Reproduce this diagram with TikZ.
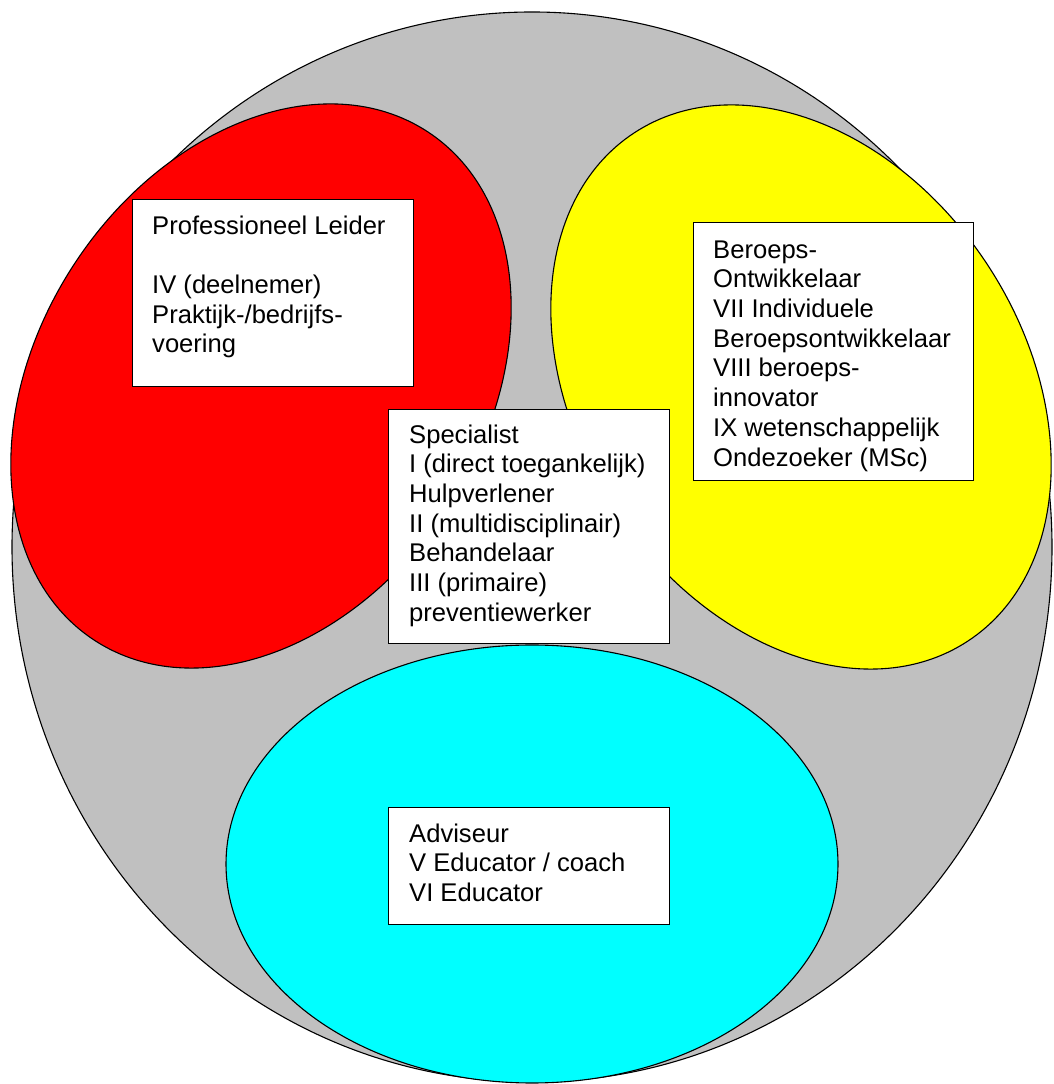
\documentclass[tikz,border=0pt]{standalone}
\usepackage{fontspec}
\setmainfont{Liberation Sans}
\definecolor{grayfill}{RGB}{192,192,192}
\definecolor{redfill}{RGB}{255,0,0}
\definecolor{yellowfill}{RGB}{255,255,0}
\definecolor{cyanfill}{RGB}{0,255,255}
\begin{document}
\begin{tikzpicture}[x=1pt,y=1pt,
  blob/.style={draw=black, line width=1.1pt},
  card/.style={draw=black, fill=white, line width=1.4pt, inner sep=0pt, anchor=north west},
  txt/.style={anchor=north west, inner sep=0pt, align=left, font=\fontsize{25.6}{29.7}\selectfont}]
\useasboundingbox (0,0) rectangle (1053,1084);
% outer circle
\draw[blob, fill=grayfill] (532,537) ellipse (520 and 535);
% red
\draw[blob, fill=redfill, rotate around={56.7:(261,698)}] (261,698) ellipse (304 and 223);
% yellow
\draw[blob, fill=yellowfill, rotate around={-56.7:(801,697)}] (801,697) ellipse (304 and 223);
% cyan
\draw[blob, fill=cyanfill] (532,220) ellipse (306 and 219);
% boxes
\node[card, minimum width=281pt, minimum height=187pt] (b1) at (132,885) {};
\node[card, minimum width=281pt, minimum height=234pt] (b2) at (388,675) {};
\node[card, minimum width=280pt, minimum height=258pt] (b3) at (693,862) {};
\node[card, minimum width=281pt, minimum height=117pt] (b4) at (388,277) {};
% texts
\node[txt] (t1) at (152,870.8) {\strut Professioneel Leider\\[29.7pt]IV (deelnemer)\\Praktijk-/bedrijfs-\\voering};
\node[txt] (t2) at (409,661.8) {\strut Specialist\\I (direct toegankelijk)\\Hulpverlener\\II (multidisciplinair)\\Behandelaar\\III (primaire)\\preventiewerker};
\node[txt] (t3) at (713,846.8) {\strut Beroeps-\\Ontwikkelaar\\VII Individuele\\Beroepsontwikkelaar\\VIII beroeps-\\innovator\\IX wetenschappelijk\\Ondezoeker (MSc)};
\node[txt] (t4) at (409,262.8) {\strut Adviseur\\V Educator / coach\\VI Educator};
\end{tikzpicture}
\end{document}
